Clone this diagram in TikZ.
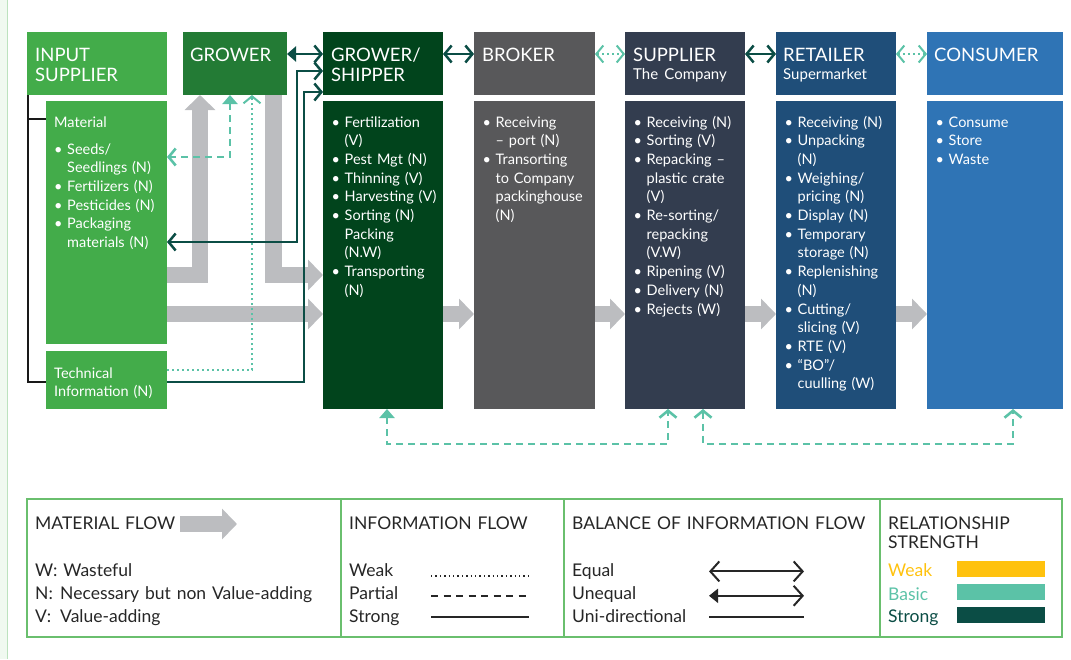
\documentclass[tikz,border=0pt]{standalone}
\usepackage{fontspec}
\setmainfont{Lato}
\usetikzlibrary{positioning,arrows.meta}

\definecolor{cIn}{HTML}{43AC4A}
\definecolor{cGr}{HTML}{237B35}
\definecolor{cGS}{HTML}{01441C}
\definecolor{cBr}{HTML}{58585A}
\definecolor{cSu}{HTML}{333D4F}
\definecolor{cRe}{HTML}{1F4E79}
\definecolor{cCo}{HTML}{2F74B5}
\definecolor{cFlow}{HTML}{BCBDC0}
\definecolor{cStrong}{HTML}{0B4D45}
\definecolor{cBasic}{HTML}{5BC2A7}
\definecolor{cWeak}{HTML}{FFC20E}
\definecolor{cLeg}{HTML}{6ABF6E}

\newcommand{\itm}{\makebox[13pt][l]{\textbullet}}
\newcommand{\ind}{\hspace*{13pt}}

\begin{document}
\begin{tikzpicture}[x=1pt,y=-1pt,node distance=31pt,>={Straight Barb[length=7pt,width=17pt]},ft/.tip={Triangle[length=9pt,width=15pt]}]
\tikzstyle{box} = [rectangle, inner sep=0pt, outer sep=0pt, anchor=north west]
\tikzstyle{head} = [box, minimum width=120pt, minimum height=63pt]
\tikzstyle{body} = [box, minimum width=120pt, minimum height=308pt]
\tikzstyle{txt} = [anchor=base west, inner sep=0pt, text width=130pt, align=left, text=white, font=\fontsize{14.5}{18.7}\selectfont]
\tikzstyle{big} = [font=\fontsize{18.5}{20}\selectfont]
\tikzstyle{flow} = [draw=cFlow, line width=16.5pt, line join=miter, -{Triangle[length=15pt,width=30pt]}]
\tikzstyle{strong} = [draw=cStrong, line width=2.5pt]
\tikzstyle{partial} = [draw=cBasic, line width=2.6pt, dash pattern=on 7pt off 5pt]
\tikzstyle{weak} = [draw=cBasic, line width=2pt, dash pattern=on 2pt off 3pt]
\tikzstyle{cell} = [box, draw=cLeg, line width=1.5pt, minimum height=138pt]
\tikzstyle{key} = [anchor=base west, inner sep=0pt, text width=300pt, align=left, text=black!85, font=\fontsize{17.5}{22.8}\selectfont]
\tikzstyle{lgarrow} = [draw=black!85, line width=2pt, >={Straight Barb[length=9pt,width=20pt]}]
%
\useasboundingbox (0,0) rectangle (1071,659);
\fill[cLeg!10] (0,0) rectangle (7,659);
\draw[cLeg!45, line width=1pt] (7.5,0) -- (7.5,659);
%
\node[head, fill=cIn, minimum width=140pt] (11) at (27,32) {};
\node[head, fill=cGr, minimum width=104pt, right=16pt of 11] (12) {};
\node[head, fill=cGS, right=36pt of 12] (13) {};
\node[head, fill=cBr, minimum width=121pt, right=of 13] (14) {};
\node[head, fill=cSu, right=30pt of 14] (15) {};
\node[head, fill=cRe, right=of 15] (16) {};
\node[head, fill=cCo, minimum width=136pt, right=of 16] (17) {};
%
\node[box, fill=cIn, minimum width=121pt, minimum height=243pt, below left=6pt and 0pt of 11.south east] (21) {};
\node[box, fill=cIn, minimum width=121pt, minimum height=58pt, below=7pt of 21] (31) {};
\node[body, fill=cGS, below=6pt of 13] (23) {};
\node[body, fill=cBr, minimum width=121pt, below=6pt of 14] (24) {};
\node[body, fill=cSu, below=6pt of 15] (25) {};
\node[body, fill=cRe, below=6pt of 16] (26) {};
\node[body, fill=cCo, minimum width=136pt, below=6pt of 17] (27) {};
%
\node[txt, big] (t11) at ([shift={(8,29)}]11.north west) {INPUT\\SUPPLIER};
\node[txt, big] (t12) at ([shift={(7,29)}]12.north west) {GROWER};
\node[txt, big] (t13) at ([shift={(8,29)}]13.north west) {GROWER/\\SHIPPER};
\node[txt, big] (t14) at ([shift={(8,29)}]14.north west) {BROKER};
\node[txt, big] (t15) at ([shift={(8,29)}]15.north west) {SUPPLIER\\[-2pt]{\fontsize{15}{18}\selectfont The Company}};
\node[txt, big] (t16) at ([shift={(7,29)}]16.north west) {RETAILER\\[-2pt]{\fontsize{15}{18}\selectfont Supermarket}};
\node[txt, big] (t17) at ([shift={(7,29)}]17.north west) {CONSUMER};
%
\node[txt] (t21) at ([shift={(8,26)}]21.north west) {Material\\[8.3pt]\itm Seeds/\\\ind Seedlings (N)\\\itm Fertilizers (N)\\\itm Pesticides (N)\\\itm Packaging\\\ind materials (N)};
\node[txt] (t31) at ([shift={(8,27)}]31.north west) {Technical\\Information (N)};
\node[txt] (t23) at ([shift={(8.5,26)}]23.north west) {\itm Fertilization\\\ind (V)\\\itm Pest Mgt (N)\\\itm Thinning (V)\\\itm Harvesting (V)\\\itm Sorting (N)\\\ind Packing\\\ind (N.W)\\\itm Transporting\\\ind (N)};
\node[txt] (t24) at ([shift={(8.5,26)}]24.north west) {\itm Receiving\\\ind -- port (N)\\\itm Transorting\\\ind to Company\\\ind packinghouse\\\ind (N)};
\node[txt] (t25) at ([shift={(8.5,26)}]25.north west) {\itm Receiving (N)\\\itm Sorting (V)\\\itm Repacking --\\\ind plastic crate\\\ind (V)\\\itm Re-sorting/\\\ind repacking\\\ind (V.W)\\\itm Ripening (V)\\\itm Delivery (N)\\\itm Rejects (W)};
\node[txt] (t26) at ([shift={(8.5,26)}]26.north west) {\itm Receiving (N)\\\itm Unpacking\\\ind (N)\\\itm Weighing/\\\ind pricing (N)\\\itm Display (N)\\\itm Temporary\\\ind storage (N)\\\itm Replenishing\\\ind (N)\\\itm Cutting/\\\ind slicing (V)\\\itm RTE (V)\\\itm “BO”/\\\ind cuulling (W)};
\node[txt] (t27) at ([shift={(8.5,26)}]27.north west) {\itm Consume\\\itm Store\\\itm Waste};
%
\draw[flow] ([yshift=-52.5pt]21.east) -| ([xshift=-35pt]12.south);
\draw[flow] ([xshift=38.5pt]12.south) |- ([yshift=-20pt]23.west);
\draw[flow] ([yshift=-91.5pt]21.east) -- ([yshift=-59pt]23.west);
\foreach \a/\b in {23/24,24/25,25/26,26/27}
  \draw[flow] ([yshift=-59pt]\a.east) -- ([yshift=-59pt]\b.west);
%
\draw[black!90, line width=2pt] ([xshift=1pt]11.south west) |- ([yshift=-2pt]31.west);
\draw[black!90, line width=2pt] ([xshift=1pt,yshift=-24pt]11.south west) -- ([yshift=-18pt]21.north west);
%
\coordinate (k1) at ([xshift=-26pt,yshift=-7.5pt]13.west);
\coordinate (k2) at ([xshift=-19pt,yshift=-28.5pt]13.west);
\draw[strong, <->] ([yshift=-19.5pt]21.east) -| (k1) -- (13.west |- k1);
\draw[strong, ->] ([yshift=-2pt]31.east) -| (k2) -- (13.west |- k2);
\draw[partial, ft->] ([xshift=-5pt]12.south) |- ([yshift=65.5pt]21.east);
\draw[weak, ->] ([yshift=10pt]31.east) -| ([xshift=17pt]12.south);
\draw[strong, ft->] ([yshift=9.5pt]12.east) -- ([yshift=9.5pt]13.west);
\foreach \a/\b/\s in {13/14/strong,14/15/weak,15/16/strong,16/17/weak}
  \draw[\s, <->] ([yshift=9.5pt]\a.east) -- ([yshift=9.5pt]\b.west);
\draw[partial, ft->] ([xshift=4pt]23.south) -- ++(0,35) -| ([xshift=-17pt]25.south);
\draw[partial, <->] ([xshift=18pt]25.south) -- ++(0,35) -| ([xshift=18pt]27.south);
%
\node[cell, minimum width=314pt] (41) at (27,499) {};
\node[cell, minimum width=223pt, right=0pt of 41] (42) {};
\node[cell, minimum width=316pt, right=0pt of 42] (43) {};
\node[cell, minimum width=182pt, right=0pt of 43] (44) {};
%
\node[key] (t41) at ([shift={(8,30)}]41.north west) {MATERIAL FLOW};
\node[key] (k41) at ([shift={(8,77.5)}]41.north west) {W: Wasteful\\\makebox[25pt][l]{N:}Necessary but non Value-adding\\\makebox[25pt][l]{V:}Value-adding};
\draw[flow] ([shift={(153,25)}]41.north west) -- ++(57,0);
\node[key] (t42) at ([shift={(8,30)}]42.north west) {INFORMATION FLOW};
\node[key] (k42) at ([shift={(8,77.5)}]42.north west) {Weak\\Partial\\Strong};
\draw[black!85, line width=1.4pt, dash pattern=on 1.4pt off 3pt] ([shift={(90,77)}]42.north west) -- ++(98,0);
\draw[black!85, line width=1.6pt, dash pattern=on 7pt off 5.5pt] ([shift={(90,97)}]42.north west) -- ++(98,0);
\draw[black!85, line width=1.8pt] ([shift={(90,118)}]42.north west) -- ++(98,0);
\node[key] (t43) at ([shift={(8,30)}]43.north west) {BALANCE OF INFORMATION FLOW};
\node[key] (k43) at ([shift={(8,77.5)}]43.north west) {Equal\\Unequal\\Uni-directional};
\draw[lgarrow, <->] ([shift={(145,72.4)}]43.north west) -- ++(95,0);
\draw[lgarrow, {Triangle[length=9pt,width=14pt]}->] ([shift={(145,96.8)}]43.north west) -- ++(95,0);
\draw[lgarrow] ([shift={(145,118)}]43.north west) -- ++(95,0);
\node[key] (t44) at ([shift={(8,30)}]44.north west) {RELATIONSHIP\\[-3pt]STRENGTH};
\node[key, text=cWeak] (w44) at ([shift={(8,77.5)}]44.north west) {Weak};
\node[key, text=cBasic] (b44) at ([shift={(8,101)}]44.north west) {Basic};
\node[key, text=cStrong] (s44) at ([shift={(8,123)}]44.north west) {Strong};
\fill[cWeak] ([shift={(77,62)}]44.north west) rectangle ++(88,16);
\fill[cBasic] ([shift={(77,85)}]44.north west) rectangle ++(88,16);
\fill[cStrong] ([shift={(77,108)}]44.north west) rectangle ++(88,16);
\end{tikzpicture}
\end{document}
